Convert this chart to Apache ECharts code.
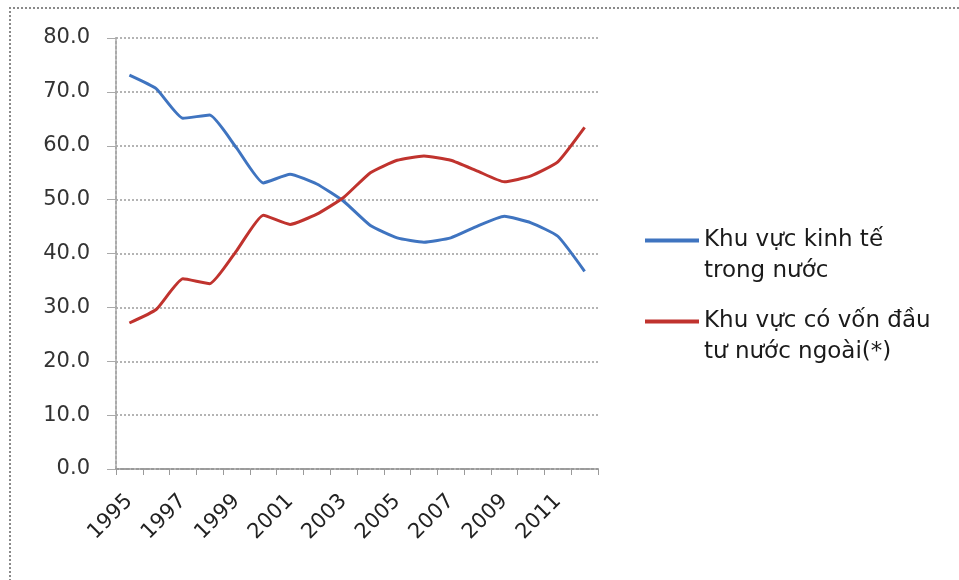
<!DOCTYPE html>
<html>
<head>
<meta charset="utf-8">
<script src="https://cdn.jsdelivr.net/npm/echarts@6/dist/echarts.min.js"></script>
<style>
html,body{margin:0;padding:0;background:#fff;width:959px;height:580px;overflow:hidden;}
#frame{position:absolute;left:9px;top:7px;width:960px;height:580px;border-left:2px dotted #8a8a8a;border-top:2px dotted #8a8a8a;}
#main{position:absolute;left:0;top:0;width:959px;height:580px;}
</style>
</head>
<body>
<div id="frame"></div>
<div id="main"></div>
<script>
const years = ['1995','1996','1997','1998','1999','2000','2001','2002','2003','2004','2005','2006','2007','2008','2009','2010','2011','2012'];
const domestic = [73.1, 70.6, 65.1, 65.7, 59.6, 53.1, 54.7, 52.9, 49.7, 45.2, 42.9, 42.1, 42.9, 45.1, 46.9, 45.7, 43.2, 36.7];
const foreign = [27.1, 29.6, 35.3, 34.4, 40.5, 47.1, 45.4, 47.3, 50.4, 55.0, 57.3, 58.1, 57.3, 55.3, 53.3, 54.4, 57.0, 63.4];
const seriesNames = ['Khu vực kinh tế\ntrong nước', 'Khu vực có vốn đầu\ntư nước ngoài(*)'];

const chart = echarts.init(document.getElementById('main'));
const legendText = {fontFamily:'DejaVu Sans', fontSize:23, color:'#1a1a1a', lineHeight:31};
const legendBase = {left:645, padding:0, itemWidth:54, itemHeight:4, icon:'rect', textStyle:legendText, formatter:n=>' \n'+n};
chart.setOption({
  animation:false,
  backgroundColor:'transparent',
  grid:{left:116, right:361, top:38, bottom:111},
  legend:[
    Object.assign({data:[seriesNames[0]], top:194}, legendBase),
    Object.assign({data:[seriesNames[1]], top:275}, legendBase)
  ],
  xAxis:{
    type:'category', data:years, boundaryGap:true,
    axisLine:{lineStyle:{color:'#9a9a9a', type:[3,2], width:2}},
    axisTick:{show:true, interval:0, length:6, lineStyle:{color:'#9a9a9a'}},
    axisLabel:{interval:1, rotate:45, margin:29, fontFamily:'DejaVu Sans', fontSize:21, color:'#222'}
  },
  yAxis:{
    type:'value', min:0, max:80, interval:10,
    axisLine:{show:true, lineStyle:{color:'#aaaaaa', type:[3,2], width:2}},
    axisTick:{show:true, length:9, lineStyle:{color:'#aaaaaa'}},
    axisLabel:{margin:26, fontFamily:'DejaVu Sans', fontSize:21, color:'#333', formatter:v=>v.toFixed(1)},
    splitLine:{lineStyle:{color:'#9c9c9c', type:[2,2], width:1.5}}
  },
  series:[
    {name:seriesNames[0], type:'line', data:domestic, smooth:0.15, symbol:'none', lineStyle:{color:'#3f74c0', width:3}, itemStyle:{color:'#3f74c0'}},
    {name:seriesNames[1], type:'line', data:foreign, smooth:0.15, symbol:'none', lineStyle:{color:'#c0332e', width:3}, itemStyle:{color:'#c0332e'}}
  ]
});
</script>
</body>
</html>
